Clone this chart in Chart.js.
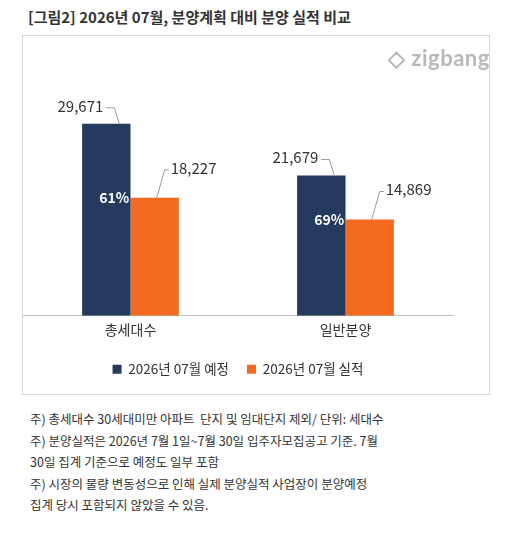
<!DOCTYPE html>
<html><head><meta charset="utf-8">
<script src="https://cdn.jsdelivr.net/npm/chart.js@4"></script>
<style>
body{margin:0;background:#fff;font-family:"Noto Sans CJK KR","Noto Sans",sans-serif;width:515px;height:544px;position:relative;overflow:hidden}
#title{position:absolute;left:28px;top:6px;font-size:15px;font-weight:bold;color:#333}
#box{position:absolute;left:22px;top:35px;width:468px;height:360px;border:1px solid #d9d9d9;box-sizing:border-box}
#notes{position:absolute;left:30px;top:408px;font-size:12.5px;color:#333;line-height:21.5px}
#logo{position:absolute;left:388px;top:44px;font-family:"Lato",sans-serif;font-size:22px;color:#b8b8b8;font-weight:bold;letter-spacing:0.5px}
</style></head><body>
<div id="title">[그림2] 2026년 07월, 분양계획 대비 분양 실적 비교</div>
<div id="box"><canvas id="c" width="466" height="358"></canvas></div>
<div id="logo">◇ zigbang</div>
<div id="notes">주) 총세대수 30세대미만 아파트 &nbsp;단지 및 임대단지 제외/ 단위: 세대수<br>주) 분양실적은 2026년 7월 1일~7월 30일 입주자모집공고 기준. 7월<br>30일 집계 기준으로 예정도 일부 포함<br>주) 시장의 물량 변동성으로 인해 실제 분양실적 사업장이 분양예정<br>집계 당시 포함되지 않았을 수 있음.</div>
<script>
const categories=["총세대수","일반분양"];
const planned=[29671,21679];
const actual=[18227,14869];
const ratios=["61%","69%"];
const seriesNames=["2026년 07월 예정","2026년 07월 실적"];
const navy="#243a5e",orange="#f26b21";
const labelPlugin={id:"lbl",afterDatasetsDraw(ch){
 const c=ch.ctx;c.save();
 c.font="15px 'Noto Sans CJK KR',sans-serif";c.fillStyle="#333";c.strokeStyle="#999";c.lineWidth=1;c.textBaseline="middle";
 [0,1].forEach(di=>{ch.getDatasetMeta(di).data.forEach((b,i)=>{
  const v=ch.data.datasets[di].data[i].toLocaleString("en-US");
  if(di===0){const ly=b.y-16;c.textAlign="right";
   c.beginPath();c.moveTo(b.x,ly);c.lineTo(b.x+8,ly);c.lineTo(b.x+13,b.y);c.stroke();
   c.fillText(v,b.x-3,ly-2);}
  else{const ly=b.y-28,lx=b.x+14;c.textAlign="left";
   c.beginPath();c.moveTo(b.x+2,b.y);c.lineTo(b.x+10,ly);c.lineTo(lx,ly);c.stroke();
   c.fillText(v,lx+2,ly-2);}
 });});
 c.font="bold 14px 'Noto Sans CJK KR',sans-serif";c.fillStyle="#fff";c.textAlign="center";
 ch.getDatasetMeta(1).data.forEach((b,i)=>{const n=ch.getDatasetMeta(0).data[i];c.fillText(ratios[i],n.x+8,b.y);});
 c.restore();}};
new Chart(document.getElementById("c"),{type:"bar",
 data:{labels:categories,datasets:[
  {label:seriesNames[0],data:planned,backgroundColor:navy,categoryPercentage:0.45,barPercentage:1},
  {label:seriesNames[1],data:actual,backgroundColor:orange,categoryPercentage:0.45,barPercentage:1}]},
 options:{responsive:false,animation:false,
  layout:{padding:{left:0,right:36,top:21,bottom:8}},
  scales:{y:{display:false,min:0,max:40000},
   x:{grid:{display:false,drawTicks:false},border:{color:"#bfbfbf"},ticks:{color:"#333",font:{size:14,family:"'Noto Sans CJK KR'"},padding:6}}},
  plugins:{tooltip:{enabled:false},
   legend:{position:"bottom",labels:{color:"#333",boxWidth:9,boxHeight:9,padding:18,font:{size:13.5,family:"'Noto Sans CJK KR'"}}}}},
 plugins:[labelPlugin]});
</script></body></html>
